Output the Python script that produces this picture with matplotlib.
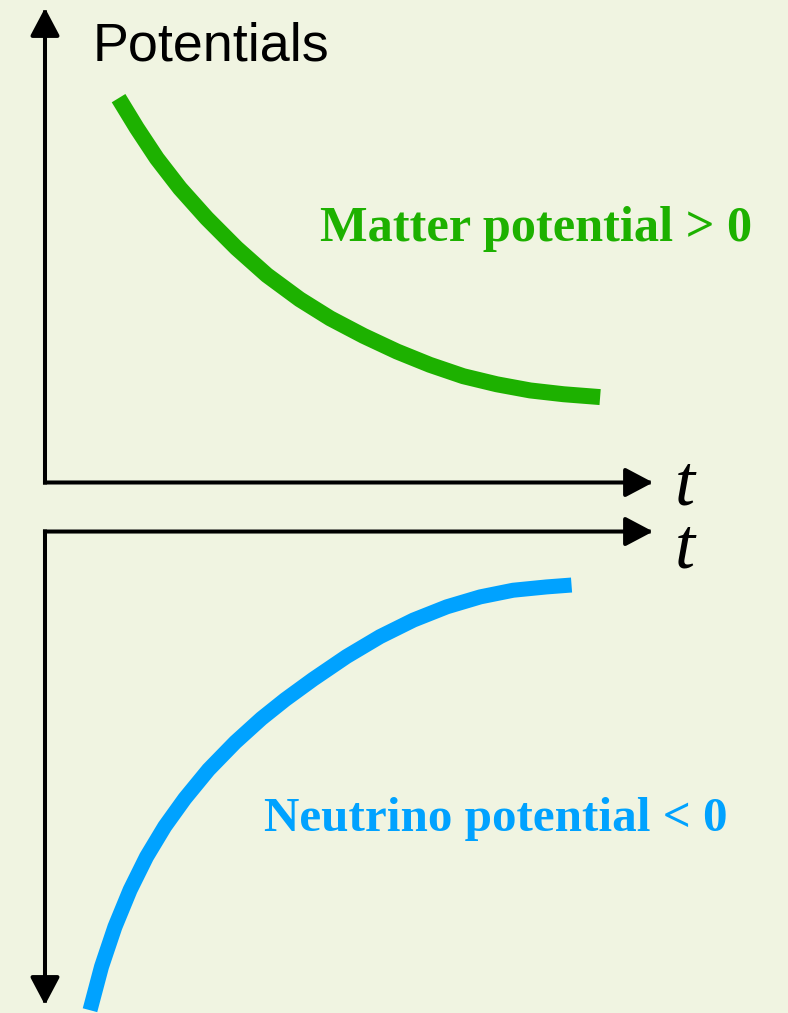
import matplotlib.pyplot as plt

# matter potential (positive, decaying towards zero)
t_matter = [1.21, 1.51, 1.84, 2.22, 2.66, 3.15, 3.65, 4.19, 4.69,
            5.24, 5.79, 6.33, 6.88, 7.43, 7.98, 8.53, 9.13]
v_matter = [8.10, 7.47, 6.83, 6.20, 5.57, 4.94, 4.37, 3.86, 3.46,
            3.09, 2.76, 2.48, 2.24, 2.07, 1.94, 1.86, 1.80]

# neutrino potential (negative, rising towards zero)
t_nu = [0.74, 0.93, 1.15, 1.40, 1.67, 1.97, 2.30, 2.69, 3.13, 3.56,
        3.95, 4.41, 4.96, 5.51, 6.06, 6.61, 7.16, 7.70, 8.25, 8.66]
v_nu = [-10.11, -9.19, -8.35, -7.57, -6.87, -6.23, -5.64, -5.03, -4.45, -3.95,
        -3.55, -3.12, -2.64, -2.22, -1.87, -1.59, -1.38, -1.24, -1.17, -1.13]

bg = '#f0f4e1'
green = '#1db100'
blue = '#00a2ff'

fig = plt.figure(figsize=(7.88, 10.13), dpi=100, facecolor=bg)
ax_top = fig.add_axes([0.0571, 0.5237, 0.7716, 0.4684])
ax_bot = fig.add_axes([0.0571, 0.0079, 0.7716, 0.4674])

head = '-|>,head_length=0.85,head_width=0.45'


def draw_axes(ax, y_end):
    ax.set_facecolor('none')
    ax.axis('off')
    ax.set_xlim(0, 10)
    arrow = dict(arrowstyle=head, lw=2.9, color='black', mutation_scale=20,
                 shrinkA=0, shrinkB=0, capstyle='projecting')
    ax.annotate('', xy=(1, y_end), xytext=(0, y_end), xycoords='axes fraction',
                arrowprops=arrow)
    ax.annotate('', xy=(0, 1 - y_end), xytext=(0, y_end), xycoords='axes fraction',
                arrowprops=arrow)


draw_axes(ax_top, 0)
draw_axes(ax_bot, 1)
ax_top.set_ylim(0, 10)
ax_bot.set_ylim(-10, 0)

ax_top.plot(t_matter, v_matter, color=green, lw=11.5, solid_capstyle='butt',
            solid_joinstyle='round', clip_on=False)
ax_bot.plot(t_nu, v_nu, color=blue, lw=10.8, solid_capstyle='butt',
            solid_joinstyle='round', clip_on=False)

serif = ['Liberation Serif', 'DejaVu Serif']
ax_top.text(4.52, 5.09, 'Matter potential > 0', color=green, fontsize=36.3,
            fontweight='bold', family=serif, va='baseline')
ax_bot.text(3.60, -6.33, 'Neutrino potential < 0', color=blue, fontsize=35.4,
            fontweight='bold', family=serif, va='baseline')

ax_top.text(10.36, -0.47, 't', fontsize=52, style='italic', family=serif,
            va='baseline', clip_on=False)
ax_bot.text(10.36, -0.77, 't', fontsize=52, style='italic', family=serif,
            va='baseline', clip_on=False)

fig.text(0.118, 0.9398, 'Potentials', fontsize=38.8,
         family=['Liberation Sans', 'DejaVu Sans'], va='baseline')

fig.savefig('out.png', dpi=100, facecolor=bg)
